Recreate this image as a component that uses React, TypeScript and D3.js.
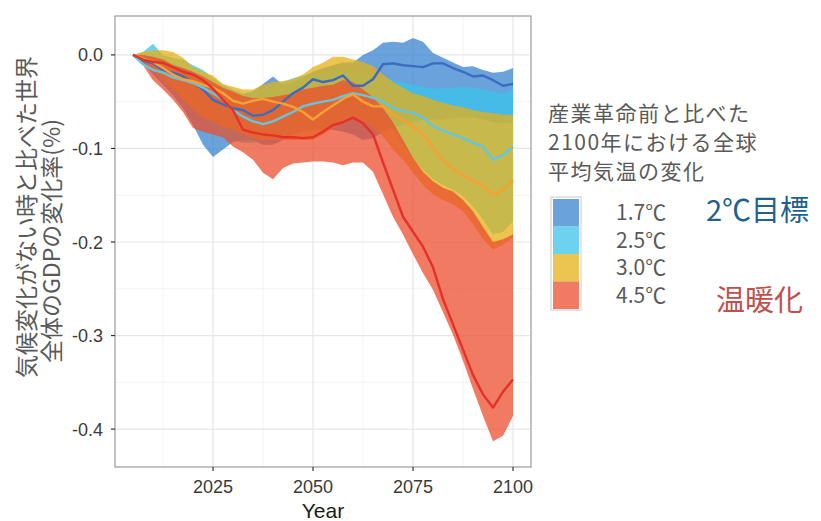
import React from "react";
import * as d3 from "d3";

// Years on the x axis (2005–2100)
const years = [
  2005, 2007.5, 2010, 2012.5, 2015, 2017.5, 2020, 2022.5, 2025, 2027.5, 2030, 2032.5,
  2035, 2037.5, 2040, 2042.5, 2045, 2047.5, 2050, 2052.5, 2055, 2057.5, 2060, 2062.5,
  2065, 2067.5, 2070, 2072.5, 2075, 2077.5, 2080, 2082.5, 2085, 2087.5, 2090, 2092.5,
  2095, 2097.5, 2100,
];

const scenarioLabels = ["1.7℃", "2.5℃", "3.0℃", "4.5℃"];

// 1.7℃ scenario: median and uncertainty range (% change of world GDP)
const median17 = [0, -0.006, -0.009, -0.016, -0.019, -0.023, -0.029, -0.037, -0.048, -0.053, -0.057, -0.059, -0.065, -0.064, -0.059, -0.05, -0.041, -0.035, -0.026, -0.029, -0.027, -0.022, -0.033, -0.033, -0.026, -0.01, -0.009, -0.011, -0.012, -0.013, -0.009, -0.009, -0.014, -0.018, -0.023, -0.022, -0.027, -0.033, -0.031];
const upper17 = [0, -0.002, -0.003, -0.005, -0.009, -0.014, -0.021, -0.027, -0.032, -0.037, -0.041, -0.043, -0.039, -0.031, -0.023, -0.032, -0.029, -0.024, -0.018, -0.014, -0.011, -0.008, -0.008, 0, 0.005, 0.013, 0.014, 0.013, 0.018, 0.014, 0.002, -0.003, -0.008, -0.013, -0.012, -0.016, -0.019, -0.018, -0.014];
const lower17 = [0, -0.0085, -0.021, -0.032, -0.043, -0.057, -0.075, -0.096, -0.109, -0.101, -0.093, -0.091, -0.091, -0.096, -0.096, -0.091, -0.085, -0.082, -0.08, -0.08, -0.08, -0.082, -0.085, -0.091, -0.089, -0.082, -0.078, -0.075, -0.072, -0.069, -0.069, -0.069, -0.067, -0.067, -0.067, -0.069, -0.072, -0.073, -0.072];

// 2.5℃ scenario
const median25 = [0, -0.01, -0.016, -0.019, -0.024, -0.027, -0.03, -0.035, -0.041, -0.048, -0.059, -0.066, -0.071, -0.074, -0.071, -0.066, -0.061, -0.055, -0.052, -0.05, -0.048, -0.044, -0.041, -0.043, -0.046, -0.05, -0.057, -0.06, -0.062, -0.067, -0.076, -0.081, -0.085, -0.089, -0.094, -0.098, -0.112, -0.107, -0.098];
const upper25 = [0, 0.003, 0.012, 0, -0.003, -0.005, -0.011, -0.016, -0.025, -0.032, -0.037, -0.041, -0.039, -0.035, -0.032, -0.029, -0.025, -0.022, -0.02, -0.018, -0.016, -0.016, -0.018, -0.018, -0.021, -0.025, -0.027, -0.03, -0.032, -0.034, -0.036, -0.036, -0.035, -0.034, -0.035, -0.037, -0.039, -0.041, -0.037];
const lower25 = [0, -0.0075, -0.018, -0.027, -0.035, -0.045, -0.057, -0.067, -0.077, -0.085, -0.091, -0.094, -0.094, -0.091, -0.087, -0.083, -0.078, -0.074, -0.069, -0.066, -0.062, -0.059, -0.055, -0.059, -0.064, -0.069, -0.08, -0.096, -0.11, -0.123, -0.133, -0.139, -0.144, -0.151, -0.162, -0.176, -0.192, -0.189, -0.178];

// 3.0℃ scenario
const median30 = [0, -0.004, -0.0075, -0.014, -0.021, -0.026, -0.028, -0.032, -0.035, -0.041, -0.049, -0.052, -0.049, -0.047, -0.05, -0.052, -0.0555, -0.061, -0.069, -0.061, -0.054, -0.047, -0.042, -0.05, -0.055, -0.055, -0.064, -0.07, -0.077, -0.085, -0.099, -0.113, -0.122, -0.129, -0.134, -0.14, -0.15, -0.144, -0.134];
const upper30 = [0, 0.003, 0.005, 0.005, 0.003, -0.003, -0.013, -0.018, -0.022, -0.031, -0.034, -0.037, -0.037, -0.032, -0.029, -0.028, -0.026, -0.021, -0.013, -0.0085, -0.002, -0.002, -0.005, -0.0075, -0.012, -0.021, -0.029, -0.035, -0.041, -0.044, -0.048, -0.051, -0.054, -0.056, -0.059, -0.061, -0.062, -0.064, -0.064];
const lower30 = [0, -0.005, -0.016, -0.027, -0.037, -0.048, -0.059, -0.067, -0.072, -0.077, -0.08, -0.085, -0.089, -0.091, -0.091, -0.091, -0.091, -0.091, -0.091, -0.085, -0.078, -0.072, -0.069, -0.071, -0.078, -0.087, -0.101, -0.112, -0.126, -0.139, -0.149, -0.155, -0.16, -0.167, -0.181, -0.197, -0.208, -0.203, -0.195];

// 4.5℃ scenario
const median45 = [0, -0.005, -0.0075, -0.0085, -0.013, -0.018, -0.021, -0.027, -0.036, -0.048, -0.059, -0.08, -0.083, -0.085, -0.086, -0.088, -0.088, -0.089, -0.088, -0.082, -0.075, -0.072, -0.067, -0.073, -0.085, -0.115, -0.144, -0.173, -0.189, -0.205, -0.227, -0.261, -0.288, -0.315, -0.342, -0.363, -0.377, -0.36, -0.347];
const upper45 = [0, 0, -0.002, -0.005, -0.011, -0.014, -0.018, -0.023, -0.029, -0.035, -0.039, -0.044, -0.046, -0.046, -0.045, -0.043, -0.041, -0.037, -0.035, -0.033, -0.032, -0.027, -0.029, -0.037, -0.045, -0.057, -0.072, -0.091, -0.11, -0.125, -0.135, -0.142, -0.146, -0.155, -0.167, -0.184, -0.2, -0.197, -0.192];
const lower45 = [0, -0.011, -0.027, -0.037, -0.048, -0.061, -0.078, -0.082, -0.085, -0.088, -0.098, -0.104, -0.112, -0.126, -0.133, -0.121, -0.116, -0.115, -0.114, -0.114, -0.115, -0.118, -0.115, -0.115, -0.125, -0.149, -0.173, -0.192, -0.213, -0.233, -0.251, -0.275, -0.299, -0.327, -0.357, -0.386, -0.413, -0.407, -0.386];

const xTicks = [2025, 2050, 2075, 2100];
const xMinorTicks = [2012.5, 2037.5, 2062.5, 2087.5];
const yTicks = [0, -0.1, -0.2, -0.3, -0.4];
const yMinorTicks = [-0.05, -0.15, -0.25, -0.35];

const legendTitle = ["産業革命前と比べた", "2100年における全球", "平均気温の変化"];
const yTitle = ["気候変化がない時と比べた世界", "全体のGDPの変化率(%)"];

const bandFills = ["#3883d0", "#3cc3eb", "#e6b016", "#eb4e2e"];
const lineColors = ["#3b6cc0", "#63c6de", "#f8a030", "#e6302a"];
const bandOpacity = 0.75;

const W = 821;
const H = 521;
const panel = { left: 115, right: 531, top: 16, bottom: 467 };

const CJK = "'Noto Sans CJK JP', 'Noto Sans', sans-serif";
const SANS = "'Liberation Sans', Arial, sans-serif";

export default function App() {
  const x = d3.scaleLinear().domain([2000.5, 2104.5]).range([panel.left, panel.right]);
  const y = d3.scaleLinear().domain([-0.4405, 0.0416]).range([panel.bottom, panel.top]);

  const scenarios = [
    { label: scenarioLabels[0], med: median17, lo: lower17, hi: upper17 },
    { label: scenarioLabels[1], med: median25, lo: lower25, hi: upper25 },
    { label: scenarioLabels[2], med: median30, lo: lower30, hi: upper30 },
    { label: scenarioLabels[3], med: median45, lo: lower45, hi: upper45 },
  ];

  const bandPath = (lo: number[], hi: number[]) =>
    d3
      .area<number>()
      .x((i) => x(years[i]))
      .y0((i) => y(lo[i]))
      .y1((i) => y(hi[i]))(years.map((_, i) => i)) as string;

  const linePath = (v: number[]) =>
    d3
      .line<number>()
      .x((_, i) => x(years[i]))
      .y((d) => y(d))(v) as string;

  const fmt = (v: number) => v.toFixed(1);

  return (
    <svg
      width={W}
      height={H}
      style={{ position: "absolute", left: 0, top: 0, background: "#fff" }}
    >
      {/* panel background and grid */}
      <rect
        x={panel.left}
        y={panel.top}
        width={panel.right - panel.left}
        height={panel.bottom - panel.top}
        fill="#fff"
      />
      {xMinorTicks.map((t) => (
        <line key={"xm" + t} x1={x(t)} x2={x(t)} y1={panel.top} y2={panel.bottom} stroke="#f3f3f3" strokeWidth={1} />
      ))}
      {yMinorTicks.map((t) => (
        <line key={"ym" + t} x1={panel.left} x2={panel.right} y1={y(t)} y2={y(t)} stroke="#f3f3f3" strokeWidth={1} />
      ))}
      {xTicks.map((t) => (
        <line key={"xg" + t} x1={x(t)} x2={x(t)} y1={panel.top} y2={panel.bottom} stroke="#e6e6e6" strokeWidth={1.2} />
      ))}
      {yTicks.map((t) => (
        <line key={"yg" + t} x1={panel.left} x2={panel.right} y1={y(t)} y2={y(t)} stroke="#e6e6e6" strokeWidth={1.2} />
      ))}

      {/* uncertainty bands */}
      {scenarios.map((s, k) => (
        <path key={"band" + k} d={bandPath(s.lo, s.hi)} fill={bandFills[k]} fillOpacity={bandOpacity} stroke="none" />
      ))}

      {/* median lines */}
      {scenarios.map((s, k) => (
        <path
          key={"line" + k}
          d={linePath(s.med)}
          fill="none"
          stroke={lineColors[k]}
          strokeWidth={2.4}
          strokeLinejoin="round"
        />
      ))}

      {/* panel border */}
      <rect
        x={panel.left}
        y={panel.top}
        width={panel.right - panel.left}
        height={panel.bottom - panel.top}
        fill="none"
        stroke="#9a9a9a"
        strokeWidth={1.2}
      />

      {/* x axis */}
      {xTicks.map((t) => (
        <g key={"xt" + t}>
          <line x1={x(t)} x2={x(t)} y1={panel.bottom} y2={panel.bottom + 4} stroke="#333" strokeWidth={1.2} />
          <text x={x(t)} y={493} textAnchor="middle" fontFamily={SANS} fontSize={18} fill="#3a3a3a">
            {t}
          </text>
        </g>
      ))}
      <text x={(panel.left + panel.right) / 2} y={518} textAnchor="middle" fontFamily={SANS} fontSize={21} fill="#1a1a1a">
        Year
      </text>

      {/* y axis */}
      {yTicks.map((t) => (
        <g key={"yt" + t}>
          <line x1={panel.left - 4} x2={panel.left} y1={y(t)} y2={y(t)} stroke="#333" strokeWidth={1.2} />
          <text x={103} y={y(t) + 6.5} textAnchor="end" fontFamily={SANS} fontSize={18} fill="#3a3a3a">
            {fmt(t)}
          </text>
        </g>
      ))}
      <text
        transform="translate(25,217) rotate(-90)"
        textAnchor="middle"
        dominantBaseline="central"
        fontFamily={CJK}
        fontSize={23}
        fill="#595959"
      >
        {yTitle[0]}
      </text>
      <text
        transform="translate(50,241) rotate(-90)"
        textAnchor="middle"
        dominantBaseline="central"
        fontFamily={CJK}
        fontSize={23}
        fill="#595959"
      >
        {yTitle[1]}
      </text>

      {/* legend */}
      {legendTitle.map((t, i) => (
        <text key={"lt" + i} x={548} y={121 + i * 29} fontFamily={CJK} fontSize={21} letterSpacing={1.5} fill="#595959">
          {t}
        </text>
      ))}
      <rect x={551} y={197} width={30} height={113} fill="#fff" stroke="#dcdcdc" strokeWidth={1.5} />
      {scenarios.map((s, k) => (
        <g key={"lg" + k}>
          <rect x={553} y={199 + k * 27.5} width={26} height={27.5} fill={bandFills[k]} fillOpacity={bandOpacity} />
          <text x={616} y={220 + k * 27.7} fontFamily={CJK} fontSize={21} fill="#595959">
            {s.label}
          </text>
        </g>
      ))}
      <text x={706} y={221} fontFamily={CJK} fontSize={29} fill="#22608f">
        2℃目標
      </text>
      <text x={716} y={311} fontFamily={CJK} fontSize={29} fill="#c0504d">
        温暖化
      </text>
    </svg>
  );
}
